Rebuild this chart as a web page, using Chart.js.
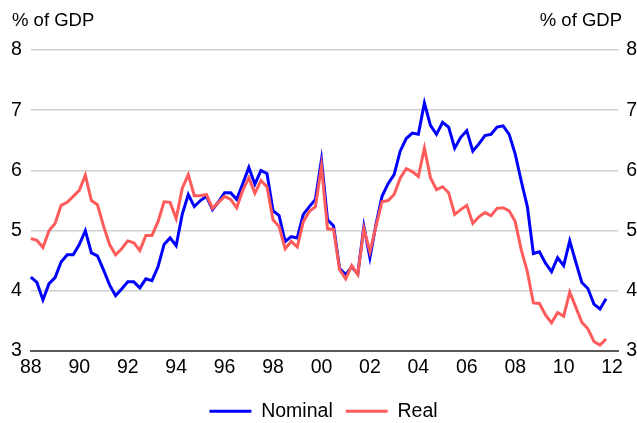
<!DOCTYPE html>
<html>
<head>
<meta charset="utf-8">
<script src="https://cdn.jsdelivr.net/npm/chart.js@4.4.1/dist/chart.umd.min.js"></script>
<style>
    html, body { margin: 0; padding: 0; background: #fff; }
    #wrap { width: 637px; height: 423px; position: relative; }
</style>
</head>
<body>
<div id="wrap"><canvas id="chart"></canvas></div>
<script>
// Quarterly data, 1988Q1 - 2011Q4, % of GDP
const startYear = 1988;
const quarterCount = 98; // axis runs to 2012Q2
const yearTicks = ['88', '90', '92', '94', '96', '98', '00', '02', '04', '06', '08', '10', '12'];

const nominal = [
    4.23, 4.14, 3.85, 4.12, 4.22, 4.48, 4.60, 4.60, 4.77, 5.00, 4.63, 4.58, 4.35, 4.10, 3.92, 4.03,
    4.15, 4.15, 4.05, 4.20, 4.17, 4.40, 4.77, 4.88, 4.75, 5.27, 5.60, 5.40, 5.50, 5.57, 5.35, 5.48,
    5.63, 5.63, 5.52, 5.78, 6.05, 5.77, 6.00, 5.95, 5.33, 5.25, 4.82, 4.90, 4.88, 5.27, 5.40, 5.52,
    6.18, 5.18, 5.08, 4.37, 4.27, 4.40, 4.28, 5.07, 4.55, 5.10, 5.57, 5.78, 5.93, 6.32, 6.53, 6.62,
    6.60, 7.12, 6.75, 6.60, 6.80, 6.72, 6.37, 6.55, 6.66, 6.32, 6.44, 6.58, 6.60, 6.72, 6.74, 6.60,
    6.27, 5.82, 5.40, 4.62, 4.65, 4.46, 4.32, 4.55, 4.42, 4.83, 4.48, 4.14, 4.04, 3.78, 3.70, 3.87
];

const real = [
    4.87, 4.84, 4.72, 5.00, 5.12, 5.42, 5.47, 5.57, 5.67, 5.92, 5.50, 5.43, 5.08, 4.77, 4.60, 4.70,
    4.83, 4.80, 4.67, 4.92, 4.92, 5.15, 5.48, 5.47, 5.20, 5.70, 5.93, 5.58, 5.58, 5.60, 5.37, 5.47,
    5.57, 5.52, 5.38, 5.67, 5.88, 5.62, 5.83, 5.73, 5.18, 5.07, 4.70, 4.82, 4.73, 5.15, 5.32, 5.40,
    6.07, 5.03, 5.02, 4.35, 4.20, 4.42, 4.27, 5.03, 4.65, 5.07, 5.48, 5.50, 5.60, 5.87, 6.03, 5.98,
    5.90, 6.37, 5.88, 5.68, 5.73, 5.63, 5.27, 5.35, 5.42, 5.12, 5.23, 5.30, 5.25, 5.37, 5.38, 5.33,
    5.15, 4.68, 4.32, 3.80, 3.79, 3.60, 3.47, 3.64, 3.58, 3.98, 3.73, 3.48, 3.37, 3.16, 3.10, 3.20
];

const quarters = [];
for (let i = 0; i < quarterCount; i++) {
    quarters.push((startYear + Math.floor(i / 4)) + 'Q' + (i % 4 + 1));
}

const fontFamily = '"Liberation Sans", Arial, sans-serif';
const gridColor = '#cfcfcf';
const axisColor = '#595959';

// "% of GDP" above both y axes
const unitLabels = {
    id: 'unitLabels',
    afterDraw(chart) {
        const ctx = chart.ctx;
        ctx.save();
        ctx.font = '18.5px ' + fontFamily;
        ctx.fillStyle = '#000';
        ctx.textBaseline = 'middle';
        ctx.textAlign = 'left';
        ctx.fillText('% of GDP', 12, 21);
        ctx.textAlign = 'right';
        ctx.fillText('% of GDP', 622, 21);
        ctx.restore();
    }
};

const tickFont = { family: fontFamily, size: 19.5 };

new Chart(document.getElementById('chart'), {
    type: 'line',
    data: {
        labels: quarters,
        datasets: [{
            label: 'Nominal',
            data: nominal,
            borderColor: '#0000ff',
            backgroundColor: '#0000ff',
            borderWidth: 3,
            pointRadius: 0,
            tension: 0,
            order: 1,
            yAxisID: 'y'
        }, {
            label: 'Real',
            data: real,
            borderColor: '#ff5b5b',
            backgroundColor: '#ff5b5b',
            borderWidth: 3,
            pointRadius: 0,
            tension: 0,
            order: 0,
            yAxisID: 'y'
        }]
    },
    options: {
        responsive: true,
        maintainAspectRatio: false,
        animation: false,
        layout: {
            padding: { top: 50, left: 2, right: -8, bottom: -8 }
        },
        plugins: {
            tooltip: { enabled: false },
            legend: {
                position: 'bottom',
                labels: {
                    usePointStyle: true,
                    pointStyle: 'line',
                    pointStyleWidth: 42,
                    padding: 13,
                    color: '#000',
                    font: { family: fontFamily, size: 19.5 },
                    sort: (a, b) => a.datasetIndex - b.datasetIndex
                }
            }
        },
        scales: {
            x: {
                type: 'category',
                offset: false,
                grid: { display: true, drawOnChartArea: false, drawTicks: false, color: 'rgba(0,0,0,0)' },
                border: { display: true, color: axisColor, width: 2 },
                ticks: {
                    autoSkip: false,
                    maxRotation: 0,
                    padding: 5,
                    color: '#000',
                    font: tickFont,
                    callback: function(value, index) {
                        return index % 8 === 0 ? yearTicks[index / 8] : null;
                    }
                },
                afterFit: function(scale) {
                    scale.height += 4;
                }
            },
            y: {
                position: 'left',
                min: 3,
                max: 8,
                grid: {
                    drawTicks: false,
                    lineWidth: 1.5,
                    color: ctx => ctx.tick && ctx.tick.value === 3 ? axisColor : gridColor
                },
                border: { display: false },
                ticks: { stepSize: 1, padding: 9, color: '#000', font: tickFont }
            },
            y2: {
                position: 'right',
                min: 3,
                max: 8,
                grid: { display: false, drawTicks: false },
                border: { display: false },
                ticks: { stepSize: 1, padding: 8, color: '#000', font: tickFont }
            }
        }
    },
    plugins: [unitLabels]
});
</script>
</body>
</html>
